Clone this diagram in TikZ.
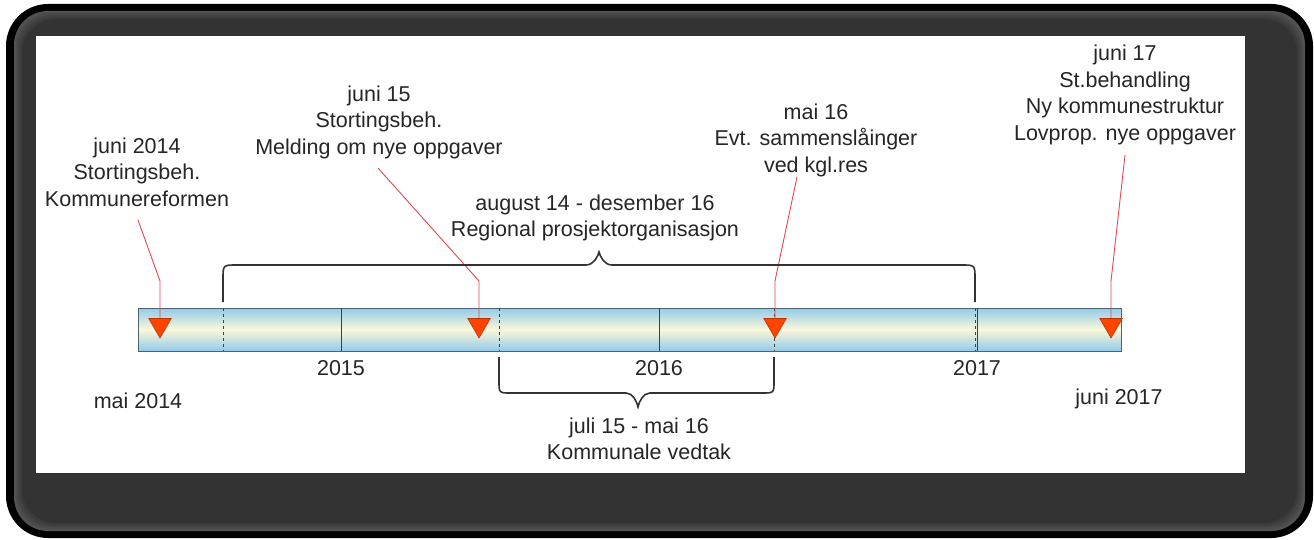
\documentclass[tikz,border=0pt]{standalone}
\usepackage{fontspec}
\setmainfont{Liberation Sans}
\usetikzlibrary{shapes.geometric}
\definecolor{barblue}{HTML}{92CBEA}
\definecolor{barcream}{HTML}{FBF7DA}
\definecolor{baredge}{HTML}{4F6270}
\definecolor{markred}{HTML}{FF4400}
\definecolor{linered}{HTML}{E04850}
\begin{document}
\begin{tikzpicture}
[x=1pt, y=-1pt,
  labeldecorate/.style={align=center, inner sep=0pt, text=black!85,
    font=\fontsize{21.5}{26.5}\selectfont},
  markdecorate/.style={regular polygon, regular polygon sides=3,
    shape border rotate=180, fill=markred, draw=markred!75!black,
    line width=0.6pt, minimum size=26pt, inner sep=0pt},
  pointerdecorate/.style={draw=linered, line width=0.9pt},
  bracedecorate/.style={draw=black!80, line width=1.6pt},
  tickdecorate/.style={draw=black!75, line width=1pt}]
%% frame
\fill[white] (0,0) rectangle (1314,540);
\fill[black, rounded corners=42pt] (6,4) rectangle (1313,538);
\foreach \i/\c in {0/68, 2/71, 4/74, 6/77, 8/80} {
  \fill[black!\c, rounded corners=34pt] (14+\i,11+\i) rectangle (1305-\i,531-\i);
}
\fill[white] (36,36) rectangle (1245,473);
%% the time bar
\node (bar) at (629.5,329.5) [draw=baredge, line width=1pt, top color=barblue,
  bottom color=barblue, middle color=barcream, minimum width=983pt,
  minimum height=43pt, inner sep=0pt] {};
\foreach \x in {341, 659, 977} {
  \draw[tickdecorate] (\x,308) -- (\x,351);
}
\foreach \x in {223, 499, 774, 975} {
  \draw[tickdecorate, dashed] (\x,308) -- (\x,351);
}
%% years and end dates
\foreach \nodename/\x/\y/\txt in {y2015/341/368/2015, y2016/659/368/2016,
    y2017/977/368/2017, start/138/401/mai 2014, end/1119/399/juni 2017} {
  \node (\nodename) at (\x,\y) [labeldecorate] {\txt};
}
%% events
\node (ev1) at (137,172) [labeldecorate] {juni 2014\\Stortingsbeh.\\Kommunereformen};
\node (ev2) at (379,122) [labeldecorate] {juni 15\\Stortingsbeh.\\Melding om nye oppgaver};
\node (ev3) at (816,140) [labeldecorate] {mai 16\\Evt. sammenslåinger\\ved kgl.res};
\node (ev4) at (1125,95) [labeldecorate] {juni 17\\St.behandling\\Ny kommunestruktur\\Lovprop. nye oppgaver};
\foreach \nodename/\sx/\sy/\bx in {1/138/220/160, 2/378/168/479, 3/797/177/775, 4/1125/155/1111} {
  \coordinate (from\nodename) at (\sx,\sy);
  \coordinate (bend\nodename) at (\bx,281);
  \node (mark\nodename) at (\bx,325) [markdecorate] {};
  \draw[pointerdecorate] (from\nodename) -- (bend\nodename) -- (mark\nodename.north);
}
%% periods
\node (regional) at (595,218) [labeldecorate] {august 14 - desember 16\\Regional prosjektorganisasjon};
\node (vedtak) at (639,439) [labeldecorate] {juli 15 - mai 16\\Kommunale vedtak};
\draw[bracedecorate] (223,302) -- (223,279) .. controls (223,265) .. (237,265)
  -- (586,265) .. controls (594,265) and (598,256) .. (599,252)
  .. controls (600,256) and (604,265) .. (612,265) -- (961,265)
  .. controls (975,265) .. (975,279) -- (975,302);
\draw[bracedecorate] (499,357) -- (499,381) .. controls (499,393) .. (511,393)
  -- (626,393) .. controls (633,393) and (637,402) .. (638,407)
  .. controls (639,402) and (643,393) .. (650,393) -- (762,393)
  .. controls (774,393) .. (774,381) -- (774,357);
\end{tikzpicture}
\end{document}
